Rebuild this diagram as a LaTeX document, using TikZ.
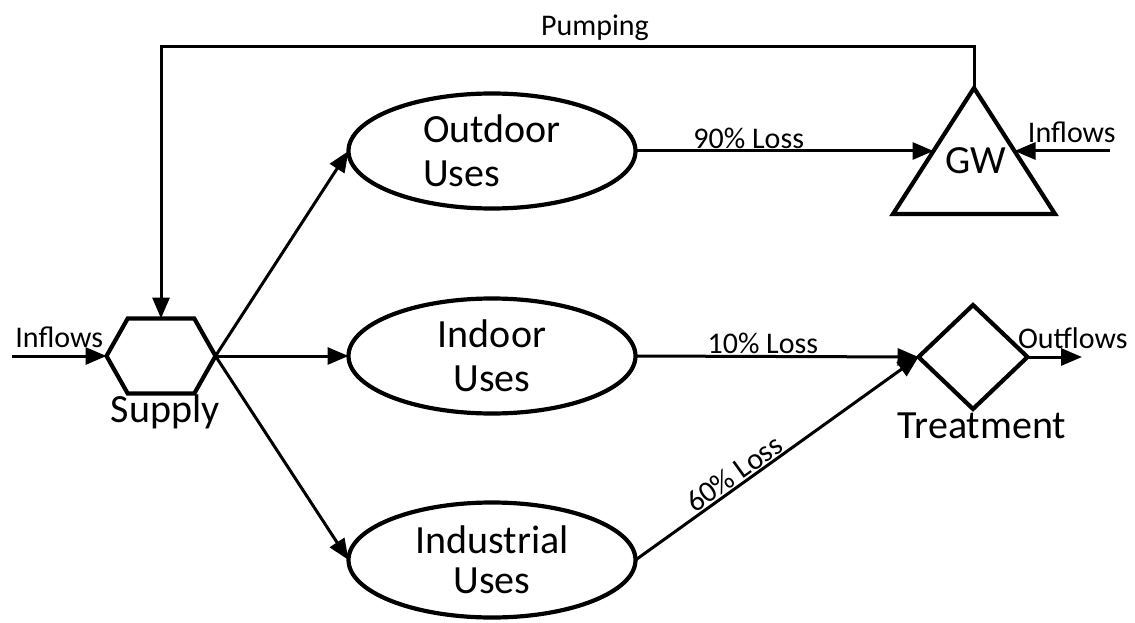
\documentclass[tikz,border=0pt]{standalone}
\usepackage{fontspec}
\setmainfont{Carlito}
\usetikzlibrary{arrows.meta,shapes.geometric,shapes.symbols}

\begin{document}
\begin{tikzpicture}[x=1pt,y=-1pt,
  big/.style={font=\fontsize{40}{44}\selectfont},
  small/.style={font=\fontsize{30}{34}\selectfont},
  shapeline/.style={draw=black, line width=4.2pt, inner sep=0pt, outer sep=0pt},
  usebox/.style={shapeline, ellipse, minimum width=287pt, minimum height=115pt, big},
  flow/.style={line width=3pt, -{Triangle[length=21pt,width=17pt]}},
  loss/.style={small, above, inner sep=1pt},
  tag/.style={small, above=7pt, inner sep=0pt},
]
% canvas
\fill[white] (0,0) rectangle (1135,623);
\useasboundingbox (0,0) rectangle (1135,623);

% supply hexagon
\node[shapeline, signal, signal to=east and west, signal pointer angle=121,
      minimum width=109pt, minimum height=75pt] (supply) at (161,356) {};
\node[big, anchor=base] (supplylabel) at (165,422) {Supply};

% water uses
\node[usebox, align=left]   (outdoor)    at (492,151) {Outdoor\\Uses};
\node[usebox, align=center] (indoor)     at (492,356) {Indoor\\Uses};
\node[usebox, align=center] (industrial) at (492,560) {\raisebox{-4pt}{Industrial}\\Uses};

% groundwater
\node[shapeline, isosceles triangle, shape border rotate=90,
      isosceles triangle stretches, minimum width=162pt, minimum height=126pt,
      anchor=apex] (gw) at (974,88) {};
\node[big] (gwlabel) at (976,161) {GW};

% treatment
\node[shapeline, diamond, aspect=1.05, minimum width=109pt, minimum height=104pt]
      (treat) at (973,357) {};
\node[big, anchor=base] (treatlabel) at (982,438) {Treatment};

% free ends of the boundary flows
\coordinate (inL) at (12,356);
\coordinate (inR) at (1110,151);
\coordinate (outR) at (1082,357);
\coordinate (pumptop) at (0,47);

% flows
\draw[flow] (inL) -- node[tag, midway] {Inflows} (supply.west);
\draw[flow] (supply.east) -- (outdoor.west);
\draw[flow] (supply.east) -- (indoor.west);
\draw[flow] (supply.east) -- (industrial.west);
\draw[flow] (outdoor.east) -- node[loss, pos=0.38] {90\% Loss} (gw.left side);
\draw[flow] (inR) -- node[tag, pos=0.4] {Inflows} (gw.right side);
\draw[flow] (indoor.east) -- node[loss, pos=0.45] {10\% Loss} (treat.west);
\draw[flow] (industrial.east) -- node[loss, sloped, pos=0.375] {60\% Loss} (treat.west);
\draw[flow] (treat.east) -- node[tag, midway, xshift=18pt] {Outflows} (outR);
\draw[flow] (gw.apex) -- (gw.apex |- pumptop) -| (supply.north);
\node[small, anchor=base] (pumplabel) at (595,36) {Pumping};
\end{tikzpicture}
\end{document}
